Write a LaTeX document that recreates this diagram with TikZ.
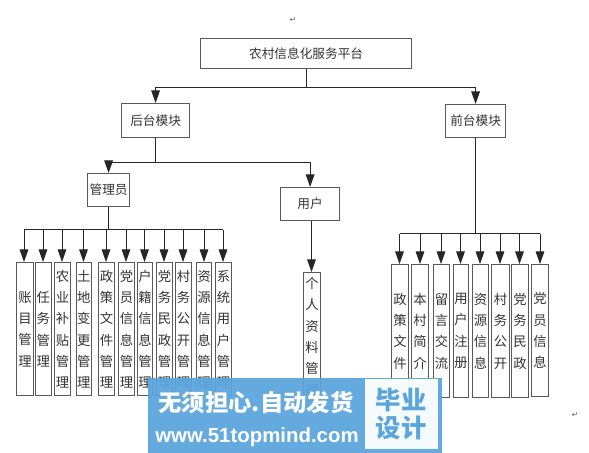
\documentclass[tikz,border=0pt]{standalone}
\usepackage{fontspec}
\newfontfamily\cjk{Noto Sans CJK SC}
\newfontfamily\djv{DejaVu Sans}
\setmainfont{Liberation Sans}
\usetikzlibrary{arrows.meta}
\tikzset{x=0.75pt,y=-0.75pt,
 bx/.style={draw=black!65,line width=0.9pt,fill=white,inner sep=0pt,font=\cjk\fontsize{9.5}{12}\selectfont,text=black!80},
 vt/.style={inner sep=0pt,align=center,font=\cjk\fontsize{10}{16}\selectfont,text=black!80},
 conn/.style={draw=black!85,line width=0.75pt},
 arr/.style={conn,-{Triangle[length=9.5pt,width=6.5pt]}}}
\newcommand{\boxat}[6]{\node[bx,minimum width=#3*0.75pt-#1*0.75pt,minimum height=#4*0.75pt-#2*0.75pt,anchor=north west] (#5) at (#1,#2) {#6};}
\newcommand{\vertbox}[6]{\node[bx,minimum width=#3*0.75pt-#1*0.75pt,minimum height=#4*0.75pt-#2*0.75pt,anchor=north west] (#5) at (#1,#2) {};
 \node[vt] (#5t) at (#5.center) {#6};}
\begin{document}
\begin{tikzpicture}
\useasboundingbox[fill=white] (0,0) rectangle (589,453);
\boxat{200}{38}{411}{68}{root}{农村信息化服务平台}
\boxat{121}{103}{189}{137}{back}{后台模块}
\boxat{445}{104}{505}{137}{front}{前台模块}
\boxat{87}{173}{129}{206}{admin}{管理员}
\boxat{280}{187}{339}{220}{user}{用户}
\coordinate (j0) at (root.south -| 306,0);
\coordinate (j0b) at (306,87.5);
\draw[conn] (j0) -- (j0b);
\draw[arr] (j0b) -| (back.north);
\draw[arr] (j0b) -| (front.north);
\coordinate (j1) at (back.south |- 0,162);
\draw[conn] (back.south) -- (j1);
\draw[arr] (j1) -| (admin.north);
\draw[arr] (j1) -| (user.north);
\coordinate (j2) at (admin.south |- 0,229.5);
\draw[conn] (admin.south) -- (j2);
\coordinate (j3) at (front.south |- 0,233.7);
\draw[conn] (front.south) -- (j3);
\vertbox{16}{262}{33}{395}{a1}{账\\目\\管\\理}
\vertbox{34.5}{262}{51}{395}{a2}{任\\务\\管\\理}
\vertbox{54}{262}{70}{395}{a3}{农\\业\\补\\贴\\管\\理}
\vertbox{75.5}{262}{91}{395}{a4}{土\\地\\变\\更\\管\\理}
\vertbox{98}{262}{114}{395}{a5}{政\\策\\文\\件\\管\\理}
\vertbox{118}{262}{134}{395}{a6}{党\\员\\信\\息\\管\\理}
\vertbox{137}{262}{152}{395}{a7}{户\\籍\\信\\息\\管\\理}
\vertbox{156}{262}{172}{395}{a8}{党\\务\\民\\政\\管\\理}
\vertbox{175}{262}{191}{395}{a9}{村\\务\\公\\开\\管\\理}
\vertbox{196}{262}{211}{395}{a10}{资\\源\\信\\息\\管\\理}
\vertbox{215}{262}{231}{395}{a11}{系\\统\\用\\户\\管\\理}
\vertbox{303}{272}{320}{400}{u1}{个\\人\\资\\料\\管\\理}
\foreach \n/\x in {a1/24,a2/43,a3/62,a4/83.5,a5/106,a6/126,a7/144.5,a8/164,a9/183,a10/204,a11/223}{
 \draw[arr] (\x,229.5) -- (\n.north -| \x,0);
}
\draw[conn] (24,229.5) -- (223,229.5);
\draw[arr] (user.south -| 311.5,0) -- (u1.north -| 311.5,0);
\vertbox{391}{264}{408}{397}{f1}{政\\策\\文\\件}
\vertbox{411}{264}{428}{397}{f2}{本\\村\\简\\介}
\vertbox{433}{264}{449}{397}{f3}{留\\言\\交\\流}
\vertbox{453}{264}{468}{397}{f4}{用\\户\\注\\册}
\vertbox{472}{264}{488}{397}{f5}{资\\源\\信\\息}
\vertbox{491}{264}{509}{397}{f6}{村\\务\\公\\开}
\vertbox{511}{264}{528}{397}{f7}{党\\务\\民\\政}
\vertbox{531}{264}{548}{396}{f8}{党\\员\\信\\息}
\foreach \n/\x in {f1/399.5,f2/420,f3/441,f4/460.5,f5/480,f6/500,f7/519.5,f8/540}{
 \draw[arr] (\x,233.7) -- (\n.north -| \x,0);
}
\draw[conn] (399.5,233.7) -- (540,233.7);
\node[font=\djv\fontsize{6}{7}\selectfont,text=black!60,inner sep=0pt] (m1) at (293,20) {↵};
\node[font=\djv\fontsize{6}{7}\selectfont,text=black!60,inner sep=0pt] (m2) at (575,415) {↵};
% watermark
\fill[fill={rgb,255:red,91;green,165;blue,222},fill opacity=0.94] (148,378) rectangle (442,453);
\fill[white,fill opacity=0.94] (365,379) rectangle (438,449);
\node[anchor=center,inner sep=0pt,text=white,font=\cjk\bfseries\fontsize{17.5}{18}\selectfont] (w1) at (256,403) {无须担心.自动发货};
\node[anchor=center,inner sep=0pt,text=white,font=\bfseries\fontsize{15.3}{16}\selectfont] (w2) at (257,437) {www.51topmind.com};
\node[inner sep=0pt,text={rgb,255:red,91;green,165;blue,222},font=\cjk\bfseries\fontsize{19}{21}\selectfont,align=center] (w3) at (401,414) {毕业\\设计};
\end{tikzpicture}
\end{document}
